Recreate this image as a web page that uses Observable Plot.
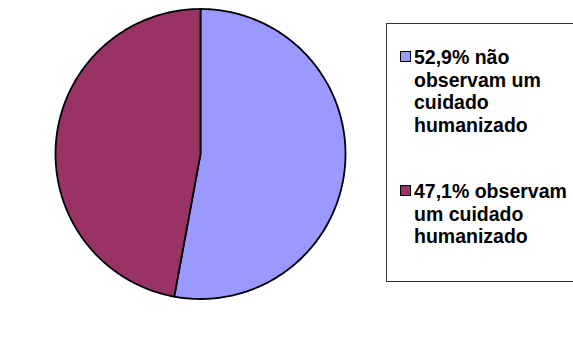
<!DOCTYPE html>
<html>
<head>
<meta charset="utf-8">
<script src="https://cdn.jsdelivr.net/npm/d3@7"></script>
<script src="https://cdn.jsdelivr.net/npm/@observablehq/plot@0.6"></script>
<style>
  html, body { margin: 0; padding: 0; background: #fff; }
  #wrap { position: relative; width: 573px; height: 345px; overflow: hidden; }
  #legend { position: absolute; left: 386px; top: 23px; width: 220px; height: 259px;
            border: 1px solid #333; box-sizing: border-box; background: #fff;
            font-family: "Liberation Sans", Arial, sans-serif; font-weight: bold;
            font-size: 19.5px; line-height: 22.5px; color: #000; }
  .item { position: absolute; left: 13px; display: flex; align-items: flex-start; }
  .sw { width: 9px; height: 9px; border: 1.5px solid #000; margin-top: 5px; margin-right: 3px; flex: none; }
</style>
</head>
<body>
<div id="wrap"></div>
<script>
const labels = ["52,9% não observam um cuidado humanizado", "47,1% observam um cuidado humanizado"];
const legendLines = [["52,9% não", "observam um", "cuidado", "humanizado"], ["47,1% observam", "um cuidado", "humanizado"]];
const values = [52.9, 47.1];
const colors = ["#9999FF", "#993366"];

// Build slice polygons (clockwise from 12 o'clock) in unit coordinates
const total = d3.sum(values);
const pts = [];
let acc = 0;
values.forEach((v, i) => {
  const a0 = acc / total * 2 * Math.PI;
  acc += v;
  const a1 = acc / total * 2 * Math.PI;
  pts.push({label: labels[i], x: 0, y: 0});
  const n = Math.max(2, Math.ceil((a1 - a0) / 0.01));
  for (let k = 0; k <= n; k++) {
    const a = a0 + (a1 - a0) * k / n;
    pts.push({label: labels[i], x: Math.sin(a), y: Math.cos(a)});
  }
  pts.push({label: labels[i], x: 0, y: 0});
});

const chart = Plot.plot({
  width: 573,
  height: 345,
  marginLeft: 55,
  marginRight: 228,
  marginTop: 8.5,
  marginBottom: 46.5,
  x: {domain: [-1, 1], axis: null},
  y: {domain: [-1, 1], axis: null},
  color: {domain: labels, range: colors},
  marks: [
    Plot.line(pts, {x: "x", y: "y", z: "label", fill: "label", stroke: "black", strokeWidth: 1.8, curve: "linear"})
  ]
});
const wrap = document.getElementById("wrap");
wrap.appendChild(chart);

const legend = document.createElement("div");
legend.id = "legend";
const tops = [22, 156];
labels.forEach((l, i) => {
  const item = document.createElement("div");
  item.className = "item";
  item.style.top = tops[i] + "px";
  const sw = document.createElement("div");
  sw.className = "sw";
  sw.style.background = colors[i];
  const txt = document.createElement("div");
  txt.innerHTML = legendLines[i].join("<br>");
  item.appendChild(sw);
  item.appendChild(txt);
  legend.appendChild(item);
});
wrap.appendChild(legend);
</script>
</body>
</html>
